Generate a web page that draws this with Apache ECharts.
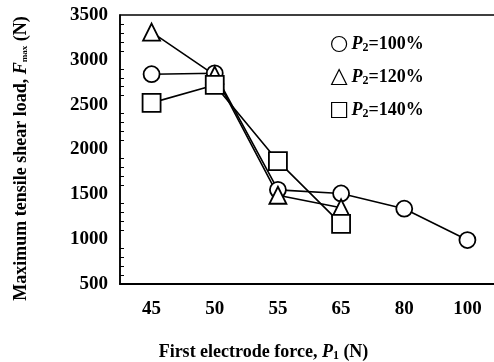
<!DOCTYPE html>
<html>
<head>
<meta charset="utf-8">
<script src="https://cdn.jsdelivr.net/npm/echarts@6/dist/echarts.min.js"></script>
<style>
  html, body { margin: 0; padding: 0; background: #fff; overflow: hidden; }
  /* plot frame runs past the right edge of the window, like the scan */
  #chart { width: 500px; height: 362px; }
</style>
</head>
<body>
<div id="chart"></div>
<script>
// first electrode force categories
const forces = ['45', '50', '55', '65', '80', '100']

// max tensile shear load (N) per P2 level
const p2_100 = [2840, 2850, 1550, 1510, 1340, 990]
const p2_120 = [3310, 2830, 1490, 1350, null, null]
const p2_140 = [2520, 2720, 1870, 1170, null, null]

const seriesNames = ['P2=100%', 'P2=120%', 'P2=140%']
const yTicks = [500, 1000, 1500, 2000, 2500, 3000, 3500]

const FONT = '"Liberation Serif", "DejaVu Serif", serif'

const rich = {
  b: { fontFamily: FONT, fontWeight: 'bold', fontSize: 18, color: '#000' },
  i: { fontFamily: FONT, fontWeight: 'bold', fontStyle: 'italic', fontSize: 18, color: '#000' },
  s: { fontFamily: FONT, fontWeight: 'bold', fontSize: 12, color: '#000', verticalAlign: 'bottom', padding: [8, 0, 0, 0] },
  ss: { fontFamily: FONT, fontWeight: 'bold', fontSize: 9, color: '#000', padding: [8, 0, 0, 0] }
}

const chart = echarts.init(document.getElementById('chart'))

const mkSeries = (name, data, symbol, size) => ({
  name: name,
  type: 'line',
  data: data,
  symbol: symbol,
  symbolSize: size,
  showAllSymbol: true,
  connectNulls: false,
  lineStyle: { color: '#000', width: 1.6 },
  itemStyle: { color: '#fff', borderColor: '#000', borderWidth: 1.8 },
  emphasis: { disabled: true }
})

chart.setOption({
  animation: false,
  backgroundColor: '#fff',
  grid: {
    left: 120, right: 1, top: 15, bottom: 78,
    outerBoundsMode: 'none',
    show: true, borderColor: '#000', borderWidth: 1.5
  },
  legend: {
    orient: 'vertical',
    left: 326, top: 30,
    itemWidth: 15, itemHeight: 15,
    itemGap: 14,
    itemStyle: { color: '#fff', borderColor: '#000', borderWidth: 1.2 },
    data: [
      { name: seriesNames[0], icon: 'circle' },
      { name: seriesNames[1], icon: 'triangle' },
      { name: seriesNames[2], icon: 'rect' }
    ],
    formatter: n => '{i|P}{s|2}{b|' + n.slice(2) + '}',
    textStyle: { rich: rich }
  },
  xAxis: {
    type: 'category',
    data: forces,
    boundaryGap: true,
    name: '{b|First electrode force, }{i|P}{s|1}{b| (N)}',
    nameLocation: 'middle',
    nameGap: 58,
    nameTextStyle: { rich: rich, padding: [0, 92, 0, 0] },
    axisLine: { lineStyle: { color: '#000', width: 2 } },
    axisTick: { inside: true, alignWithLabel: true, length: 8, lineStyle: { color: '#000', width: 1.2 } },
    axisLabel: { color: '#000', fontFamily: FONT, fontWeight: 'bold', fontSize: 19, margin: 16 },
    splitLine: { show: false }
  },
  yAxis: {
    type: 'value',
    min: yTicks[0],
    max: yTicks[yTicks.length - 1],
    interval: 500,
    name: '{b|Maximum tensile shear load, }{i|F}{ss|max}{b| (N)}',
    nameLocation: 'middle',
    nameRotate: 90,
    nameGap: 90,
    nameTextStyle: { rich: rich, padding: [0, 18, 0, 0] },
    axisLine: { show: true, lineStyle: { color: '#000', width: 1.5 } },
    axisTick: { inside: true, length: 8, lineStyle: { color: '#000', width: 1.2 } },
    minorTick: { show: true, splitNumber: 5, length: 4, lineStyle: { color: '#000', width: 1 } },
    axisLabel: {
      color: '#000', fontFamily: FONT, fontWeight: 'bold', fontSize: 19, margin: 12,
      formatter: v => String(v)
    },
    splitLine: { show: false }
  },
  series: [
    mkSeries(seriesNames[0], p2_100, 'circle', 16),
    mkSeries(seriesNames[1], p2_120, 'triangle', 17),
    mkSeries(seriesNames[2], p2_140, 'rect', 18)
  ]
})
</script>
</body>
</html>
